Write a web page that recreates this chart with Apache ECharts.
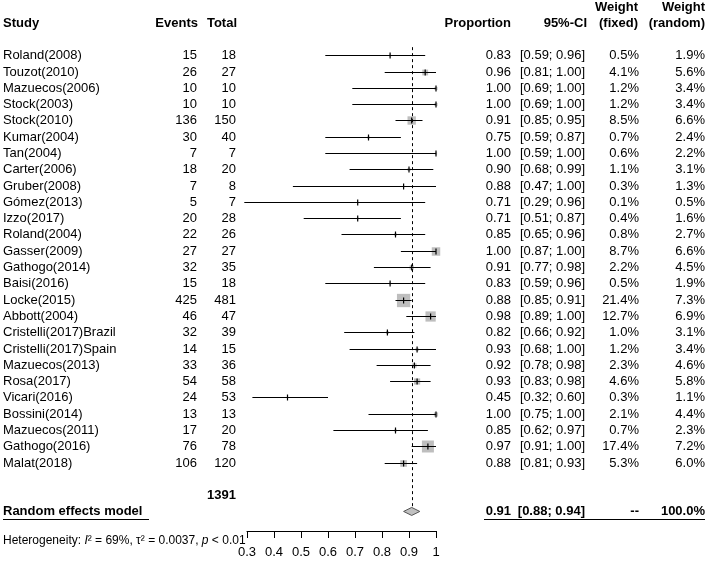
<!DOCTYPE html>
<html><head><meta charset="utf-8">
<script src="https://cdn.jsdelivr.net/npm/echarts@6/dist/echarts.min.js"></script>
<style>html,body{margin:0;padding:0;background:#fff}#c{width:708px;height:561px}</style>
</head><body><div id="c"></div>
<script>
// ---- data ----
const studies = ['Roland(2008)','Touzot(2010)','Mazuecos(2006)','Stock(2003)','Stock(2010)','Kumar(2004)','Tan(2004)','Carter(2006)','Gruber(2008)','Gómez(2013)','Izzo(2017)','Roland(2004)','Gasser(2009)','Gathogo(2014)','Baisi(2016)','Locke(2015)','Abbott(2004)','Cristelli(2017)Brazil','Cristelli(2017)Spain','Mazuecos(2013)','Rosa(2017)','Vicari(2016)','Bossini(2014)','Mazuecos(2011)','Gathogo(2016)','Malat(2018)'];
const events = [15,26,10,10,136,30,7,18,7,5,20,22,27,32,15,425,46,32,14,33,54,24,13,17,76,106];
const totals = [18,27,10,10,150,40,7,20,8,7,28,26,27,35,18,481,47,39,15,36,58,53,13,20,78,120];
const proportion = [0.83,0.96,1.00,1.00,0.91,0.75,1.00,0.90,0.88,0.71,0.71,0.85,1.00,0.91,0.83,0.88,0.98,0.82,0.93,0.92,0.93,0.45,1.00,0.85,0.97,0.88];
const ciLower = [0.59,0.81,0.69,0.69,0.85,0.59,0.59,0.68,0.47,0.29,0.51,0.65,0.87,0.77,0.59,0.85,0.89,0.66,0.68,0.78,0.83,0.32,0.75,0.62,0.91,0.81];
const ciUpper = [0.96,1.00,1.00,1.00,0.95,0.87,1.00,0.99,1.00,0.96,0.87,0.96,1.00,0.98,0.96,0.91,1.00,0.92,1.00,0.98,0.98,0.60,1.00,0.97,1.00,0.93];
const weightFixed = [0.5,4.1,1.2,1.2,8.5,0.7,0.6,1.1,0.3,0.1,0.4,0.8,8.7,2.2,0.5,21.4,12.7,1.0,1.2,2.3,4.6,0.3,2.1,0.7,17.4,5.3];
const weightRandom = [1.9,5.6,3.4,3.4,6.6,2.4,2.2,3.1,1.3,0.5,1.6,2.7,6.6,4.5,1.9,7.3,6.9,3.1,3.4,4.6,5.8,1.1,4.4,2.3,7.2,6.0];
const totalN = 1391;
const pooledEst = [0.91];
const pooledLower = [0.88];
const pooledUpper = [0.94];
const pooledLabel = ['Random effects model'];
const heterogeneity = {I2: '69%', tau2: '0.0037', p: '< 0.01'};
const xTickLabels = ['0.3','0.4','0.5','0.6','0.7','0.8','0.9','1'];

// ---- layout constants ----
const FONT = 'Liberation Sans';
const FS = 13;
const COL = {name: 3, events: 197, total: 236, prop: 511, ci: 585, wf: 639, wr: 705};
const ROW_TOTAL = studies.length + 1;   // row index of total N
const ROW_POOLED = studies.length + 2;  // row index of pooled estimate

function txt(x, y, s, align, bold) {
  return {type: 'text', style: {x: x, y: y, text: s, align: align, verticalAlign: 'middle',
    fontSize: FS, fontFamily: FONT, fontWeight: bold ? 'bold' : 'normal', fill: '#000'}};
}

const studyData = studies.map((s, i) => [proportion[i], i, ciLower[i], ciUpper[i], weightFixed[i], weightRandom[i], events[i], totals[i]]);

const chart = echarts.init(document.getElementById('c'), null, {renderer: 'canvas'});
chart.setOption({
  animation: false,
  backgroundColor: '#fff',
  grid: {left: 247, right: 272, top: 39, bottom: 30},
  xAxis: {
    type: 'value', min: 0.3, max: 1, interval: 0.1, position: 'bottom',
    axisLine: {show: true, onZero: false, lineStyle: {color: '#000', width: 1}},
    axisTick: {show: true, length: 7, lineStyle: {color: '#000'}},
    splitLine: {show: false},
    axisLabel: {margin: 15, fontSize: FS, fontFamily: FONT, color: '#000',
      formatter: v => xTickLabels[Math.round((v - 0.3) * 10)]}
  },
  yAxis: {type: 'value', min: -1, max: 29.2, inverse: true, show: false},
  graphic: [
    txt(3, 23, 'Study', 'left', true),
    txt(COL.events + 1, 23, 'Events', 'right', true),
    txt(COL.total + 1, 23, 'Total', 'right', true),
    txt(COL.prop, 23, 'Proportion', 'right', true),
    txt(COL.ci + 2, 23, '95%-CI', 'right', true),
    txt(COL.wf - 1, 7, 'Weight', 'right', true),
    txt(COL.wf - 1, 23, '(fixed)', 'right', true),
    txt(COL.wr, 7, 'Weight', 'right', true),
    txt(COL.wr, 23, '(random)', 'right', true),
    {type: 'text', style: {x: 3, y: 541, verticalAlign: 'middle', fontSize: 12, fontFamily: FONT, fill: '#000',
      text: 'Heterogeneity: {i|I}² = ' + heterogeneity.I2 + ', τ² = ' + heterogeneity.tau2 + ', {i|p} ' + heterogeneity.p,
      rich: {i: {fontStyle: 'italic', fontSize: 12, fontFamily: FONT, fill: '#000'}}}}
  ],
  series: [
    {
      type: 'custom', name: 'studies', clip: false,
      encode: {x: [0, 2, 3], y: 1},
      data: studyData,
      renderItem: function (params, api) {
        const est = api.value(0), i = api.value(1), lo = api.value(2), hi = api.value(3);
        const wf = api.value(4), wr = api.value(5), ev = api.value(6), tot = api.value(7);
        const pE = api.coord([est, i]), pL = api.coord([lo, i]), pH = api.coord([hi, i]);
        const y = Math.round(pE[1]) + 0.5;
        const side = 13.3 * Math.sqrt(wf / 21.4);
        return {type: 'group', children: [
          {type: 'rect', shape: {x: pE[0] - side / 2, y: y - side / 2, width: side, height: side},
            style: {fill: '#bebebe'}},
          {type: 'line', shape: {x1: pL[0], y1: y, x2: pH[0], y2: y}, style: {stroke: '#000', lineWidth: 1}},
          {type: 'line', shape: {x1: pE[0], y1: y - 3, x2: pE[0], y2: y + 3}, style: {stroke: '#000', lineWidth: 1.2}},
          txt(COL.name, y, studies[i], 'left', false),
          txt(COL.events, y, String(ev), 'right', false),
          txt(COL.total, y, String(tot), 'right', false),
          txt(COL.prop, y, est.toFixed(2), 'right', false),
          txt(COL.ci, y, '[' + lo.toFixed(2) + '; ' + hi.toFixed(2) + ']', 'right', false),
          txt(COL.wf, y, wf.toFixed(1) + '%', 'right', false),
          txt(COL.wr, y, wr.toFixed(1) + '%', 'right', false)
        ]};
      }
    },
    {
      type: 'custom', name: 'pooled', clip: false,
      encode: {x: [0, 2, 3], y: 1},
      data: pooledEst.map((e, k) => [e, ROW_POOLED, pooledLower[k], pooledUpper[k]]),
      renderItem: function (params, api) {
        const est = api.value(0), r = api.value(1), lo = api.value(2), hi = api.value(3);
        const pE = api.coord([est, r]), pL = api.coord([lo, r]), pH = api.coord([hi, r]);
        const top = api.coord([est, -0.5]);
        const yT = api.coord([est, ROW_TOTAL])[1];
        const y = pE[1];
        const h = 4;
        const ul = Math.round(y + 8) + 0.5;
        return {type: 'group', children: [
          {type: 'line', shape: {x1: Math.round(pE[0]) + 0.5, y1: top[1], x2: Math.round(pE[0]) + 0.5, y2: y - h},
            style: {stroke: '#000', lineWidth: 1, lineDash: [3, 3]}},
          {type: 'polygon', shape: {points: [[pL[0], y], [pE[0], y - h], [pH[0], y], [pE[0], y + h]]},
            style: {fill: '#c0c0c0', stroke: '#555', lineWidth: 1}},
          txt(COL.total, yT, String(totalN), 'right', true),
          txt(COL.name, y, pooledLabel[params.dataIndex], 'left', true),
          txt(COL.prop, y, est.toFixed(2), 'right', true),
          txt(COL.ci, y, '[' + lo.toFixed(2) + '; ' + hi.toFixed(2) + ']', 'right', true),
          txt(COL.wf, y, '--', 'right', true),
          txt(COL.wr, y, '100.0%', 'right', true),
          {type: 'line', shape: {x1: 3, y1: ul, x2: 149, y2: ul}, style: {stroke: '#000', lineWidth: 1}},
          {type: 'line', shape: {x1: 484, y1: ul, x2: COL.wr, y2: ul}, style: {stroke: '#000', lineWidth: 1}}
        ]};
      }
    }
  ]
});
</script>
</body></html>
